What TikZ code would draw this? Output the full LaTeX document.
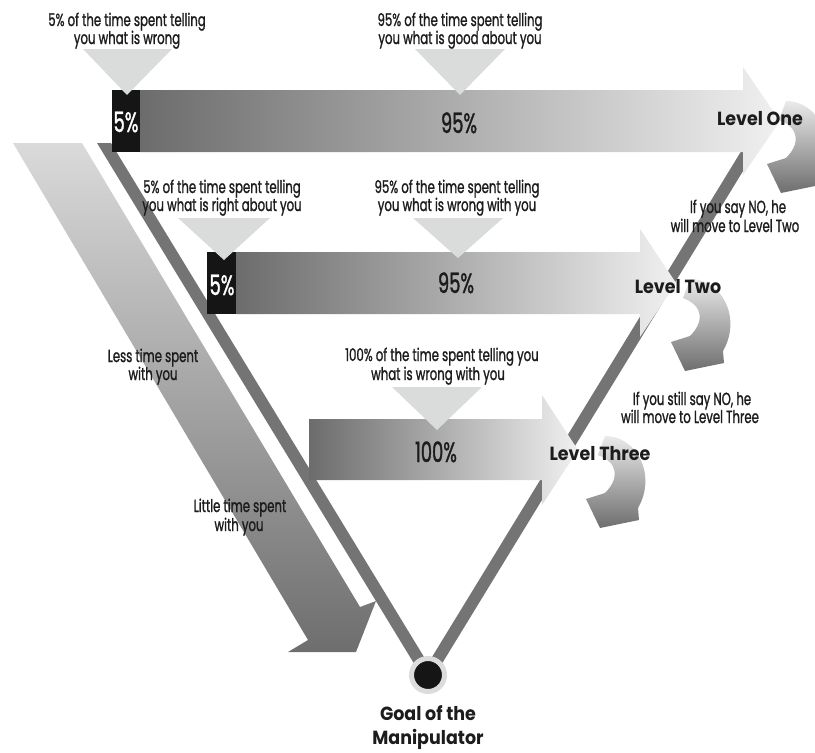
\documentclass[tikz,border=0pt]{standalone}
\usepackage{fontspec}
\newfontfamily\fcond{Poppins}[FakeStretch=0.67, FakeBold=1.2]
\newfontfamily\fnum{Poppins}[FakeStretch=0.64, FakeBold=1.2]
\newfontfamily\fwide{Poppins}[FakeStretch=0.92]
\definecolor{vline}{HTML}{747474}
\definecolor{boxblack}{HTML}{151515}
\definecolor{pointer}{HTML}{D9DCDB}
\definecolor{txt}{HTML}{1C1C1C}
\definecolor{shdark}{HTML}{6C6C6C}
\definecolor{shlight}{HTML}{F0F0F0}
\definecolor{bigtop}{HTML}{DADADA}
\definecolor{bigbot}{HTML}{6E6E6E}
\definecolor{curltop}{HTML}{EAEAEA}
\definecolor{curlbot}{HTML}{6E6E6E}
\definecolor{ring}{HTML}{DCDCDC}
\tikzset{
  smalltxt/.style={font=\fcond\fontsize{17.5}{19}\selectfont, text=txt, inner sep=0, anchor=base},
  bignum/.style={font=\fnum\fontsize{28}{30}\selectfont, text=txt, inner sep=0, anchor=base},
  lvltxt/.style={font=\fwide\bfseries\fontsize{19}{21}\selectfont, text=txt, inner sep=0, anchor=base},
  levelshade/.style={left color=shdark, right color=shlight},
  ptr/.style={fill=pointer},
  curlarrow/.pic={
    \shade[top color=curltop, bottom color=curlbot]
      (683,298) -- (690,279) .. controls (722,279) and (742,318) .. (723,351)
      -- (724,363) -- (685,371) -- (671,342) -- (690,336)
      .. controls (704,322) and (704,306) .. (683,298) -- cycle;
  }
}
\begin{document}
\begin{tikzpicture}[x=1pt,y=-1pt]
\useasboundingbox (0,0) rectangle (815,753);
\clip (0,0) rectangle (815,753);
% big left arrow
\shade[top color=bigtop, bottom color=bigbot]
  (13,143) -- (82,143) -- (360,607) -- (376,601) -- (356,652) -- (288,652) -- (308,640) -- cycle;
% V lines
\fill[vline] (97,143) -- (111,143) -- (435,675) -- (421,675) -- cycle;
\fill[vline] (421,675) -- (435,675) -- (762,140) -- (748,140) -- cycle;
\node[circle, fill=boxblack, draw=ring, line width=5pt, minimum size=33pt, inner sep=0] (goal) at (428,675) {};
% level arrows
\shade[levelshade] (140,90) -- (743,90) -- (743,67) -- (780,121) -- (743,175) -- (743,152) -- (140,152) -- cycle;
\shade[levelshade] (236,252) -- (640,252) -- (640,229) -- (676,283) -- (640,337) -- (640,314) -- (236,314) -- cycle;
\shade[levelshade] (309,419) -- (542,419) -- (542,395) -- (578,450) -- (542,505) -- (542,480) -- (309,480) -- cycle;
% black boxes
\fill[boxblack] (112,90) rectangle (140,152);
\fill[boxblack] (207,252) rectangle (236,314);
% pointers
\fill[ptr] (83,49) -- (172,49) -- (127,95) -- cycle;
\fill[ptr] (415,49) -- (505,49) -- (460,95) -- cycle;
\fill[ptr] (178,218) -- (270,218) -- (224,260) -- cycle;
\fill[ptr] (413,218) -- (503,218) -- (458,258) -- cycle;
\fill[ptr] (392,387) -- (482,387) -- (437,430) -- cycle;
% curls
\pic (curltwo) at (0,0) {curlarrow};
\pic (curlone) at (96,-178) {curlarrow};
\pic (curlthree) at (-85,157) {curlarrow};
% numbers
\node[bignum, text=white] (n1) at (126,132) {5\%};
\node[bignum] (n2) at (459,133) {95\%};
\node[bignum, text=white] (n3) at (222,295) {5\%};
\node[bignum] (n4) at (456,293) {95\%};
\node[bignum] (n5) at (436,462) {100\%};
% level labels
\node[lvltxt] (l1) at (760,125) {Level One};
\node[lvltxt] (l2) at (678,293) {Level Two};
\node[lvltxt] (l3) at (600,460) {Level Three};
% texts
\node[smalltxt] (t1a) at (127,26) {5\% of the time spent telling};
\node[smalltxt] (t1b) at (127,44) {you what is wrong};
\node[smalltxt] (t2a) at (460,26) {95\% of the time spent telling};
\node[smalltxt] (t2b) at (460,44) {you what is good about you};
\node[smalltxt] (t3a) at (222,193) {5\% of the time spent telling};
\node[smalltxt] (t3b) at (222,211) {you what is right about you};
\node[smalltxt] (t4a) at (457,193) {95\% of the time spent telling};
\node[smalltxt] (t4b) at (457,211) {you what is wrong with you};
\node[smalltxt] (t5a) at (442,361) {100\% of the time spent telling you};
\node[smalltxt] (t5b) at (438,380) {what is wrong with you};
\node[smalltxt] (t6a) at (738,213) {If you say NO, he};
\node[smalltxt] (t6b) at (735,232) {will move to Level Two};
\node[smalltxt] (t7a) at (692,405) {If you still say NO, he};
\node[smalltxt] (t7b) at (690,423) {will move to Level Three};
\node[smalltxt] (t8a) at (153,362) {Less time spent};
\node[smalltxt] (t8b) at (153,380) {with you};
\node[smalltxt] (t9a) at (240,512) {Little time spent};
\node[smalltxt] (t9b) at (239,531) {with you};
\node[lvltxt] (g1) at (428,720) {Goal of the};
\node[lvltxt] (g2) at (428,744) {Manipulator};
\end{tikzpicture}
\end{document}
